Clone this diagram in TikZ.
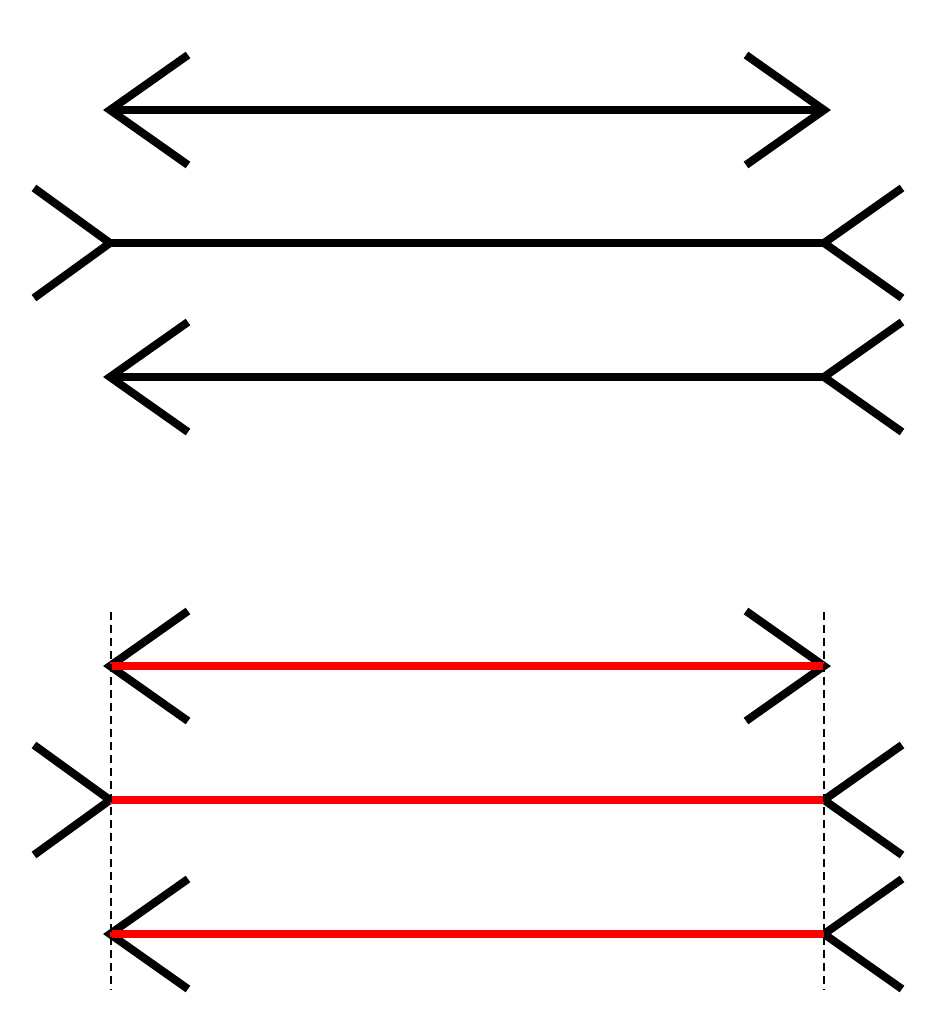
\documentclass[tikz,border=0pt]{standalone}
\usepackage{xcolor}
\usepackage{tikz}
\definecolor{ink}{HTML}{000000}
\definecolor{shaft}{HTML}{FF0000}
\tikzset{
  fin/.style={draw=ink, line width=0.16cm, line cap=butt, line join=miter},
  bar/.style={draw=ink, line width=0.16cm, line cap=butt},
  redbar/.style={draw=shaft, line width=0.16cm, line cap=butt},
  guide/.style={draw=ink, line width=0.03cm, dash pattern=on 0.16cm off 0.1cm},
}
\begin{document}
\begin{tikzpicture}[x=0.02cm, y=-0.02cm]
\useasboundingbox (0,0) rectangle (935,1024);

% fins: row y / left fin x / right fin x
\foreach \y/\l/\r in {110/188/746, 243/34/902, 377/188/902,
                      666/188/746, 800/34/902, 934/188/902}{
  \draw[fin] (\l,\y-55) -- (110,\y) -- (\l,\y+55);
  \draw[fin] (\r,\y-55) -- (824,\y) -- (\r,\y+55);
}

% shafts, plain above
\foreach \y in {110,243,377}{
  \coordinate (L\y) at (110,\y);
  \coordinate (R\y) at (824,\y);
  \draw[bar] (L\y) -- (R\y);
}
% shafts, red below
\foreach \y in {666,800,934}{
  \coordinate (L\y) at (110,\y);
  \coordinate (R\y) at (824,\y);
  \draw[redbar] (L\y) -- (R\y);
}

% guide lines
\coordinate (GLt) at (111,612);
\coordinate (GLb) at (111,990);
\coordinate (GRt) at (824,612);
\coordinate (GRb) at (824,990);
\draw[guide] (GLt) -- (GLb);
\draw[guide] (GRt) -- (GRb);
\end{tikzpicture}
\end{document}
